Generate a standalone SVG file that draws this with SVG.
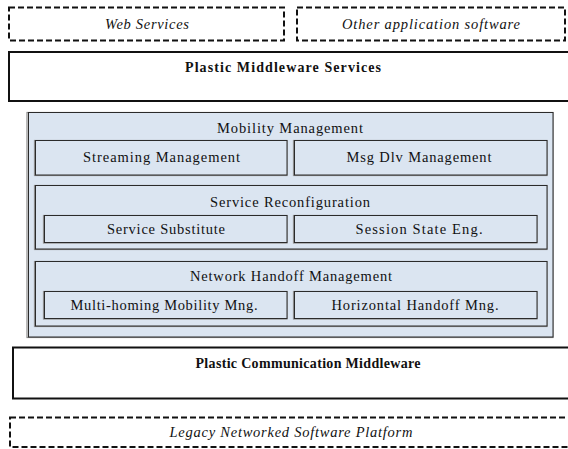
<svg xmlns="http://www.w3.org/2000/svg" width="568" height="449" viewBox="0 0 568 449">
<style>
.t{font-family:"Liberation Serif","Times New Roman",serif;font-size:14.5px;fill:#111;text-anchor:middle}
.b{font-weight:bold;font-size:14px}
.i{font-style:italic}
.dash{fill:#fff;stroke:#111;stroke-width:2;stroke-dasharray:6 3}
.solid{fill:#fff;stroke:#111;stroke-width:2}
.blue{fill:#dbe5f1;stroke:#2b2b2b;stroke-width:1}
.sh{fill:none;stroke:#8c8c8c;stroke-width:1.2}
</style>
<rect width="568" height="449" fill="#fff"/>
<g id="web-services">
<rect class="dash" x="9" y="7.5" width="275" height="33"/>
<text class="t i" x="147" y="29" textLength="84" lengthAdjust="spacing">Web Services</text>
</g>
<g id="other-app">
<rect class="dash" x="297" y="7.5" width="268" height="33"/>
<text class="t i" x="431" y="29" textLength="178" lengthAdjust="spacing">Other application software</text>
</g>
<g id="plastic-middleware-services">
<rect class="solid" x="9" y="52" width="580" height="49"/>
<text class="t b" x="283" y="72" textLength="196" lengthAdjust="spacing">Plastic Middleware Services</text>
</g>
<g id="mobility-management">
<rect class="sh" x="27" y="112.5" width="526" height="225"/>
<rect class="blue" x="28.5" y="112.5" width="524.5" height="224.5"/>
<text class="t" x="290" y="133" textLength="146" lengthAdjust="spacing">Mobility Management</text>
</g>
<g id="streaming-management">
<rect class="sh" x="34.5" y="140.5" width="252.5" height="35"/>
<rect class="blue" x="35.5" y="140.5" width="251.5" height="34.5"/>
<text class="t" x="161.5" y="162" textLength="157" lengthAdjust="spacing">Streaming Management</text>
</g>
<g id="msg-dlv-management">
<rect class="sh" x="293.5" y="140.5" width="253.5" height="35"/>
<rect class="blue" x="294.5" y="140.5" width="252.5" height="34.5"/>
<text class="t" x="419" y="162" textLength="145" lengthAdjust="spacing">Msg Dlv Management</text>
</g>
<g id="service-reconfiguration">
<rect class="sh" x="34.5" y="185.5" width="512.5" height="64"/>
<rect class="blue" x="35.5" y="185.5" width="511.5" height="63.5"/>
<text class="t" x="290" y="207" textLength="160" lengthAdjust="spacing">Service Reconfiguration</text>
</g>
<g id="service-substitute">
<rect class="sh" x="43.5" y="215.5" width="243.5" height="27.5"/>
<rect class="blue" x="44.5" y="215.5" width="242.5" height="27"/>
<text class="t" x="166" y="234" textLength="118" lengthAdjust="spacing">Service Substitute</text>
</g>
<g id="session-state-eng">
<rect class="sh" x="293.5" y="215.5" width="243.5" height="27.5"/>
<rect class="blue" x="294.5" y="215.5" width="242.5" height="27"/>
<text class="t" x="419" y="234" textLength="127" lengthAdjust="spacing">Session State Eng.</text>
</g>
<g id="network-handoff-management">
<rect class="sh" x="34.5" y="261.5" width="512.5" height="65"/>
<rect class="blue" x="35.5" y="261.5" width="511.5" height="64.5"/>
<text class="t" x="291" y="281" textLength="202" lengthAdjust="spacing">Network Handoff Management</text>
</g>
<g id="multi-homing">
<rect class="sh" x="43.5" y="291.5" width="243.5" height="27.5"/>
<rect class="blue" x="44.5" y="291.5" width="242.5" height="27"/>
<text class="t" x="164" y="310" textLength="187" lengthAdjust="spacing">Multi-homing Mobility Mng.</text>
</g>
<g id="horizontal-handoff">
<rect class="sh" x="293.5" y="291.5" width="243.5" height="27.5"/>
<rect class="blue" x="294.5" y="291.5" width="242.5" height="27"/>
<text class="t" x="415" y="310" textLength="167" lengthAdjust="spacing">Horizontal Handoff Mng.</text>
</g>
<g id="plastic-communication-middleware">
<rect class="solid" x="13" y="347.5" width="580" height="51"/>
<text class="t b" x="308" y="368" textLength="225" lengthAdjust="spacing">Plastic Communication Middleware</text>
</g>
<g id="legacy-platform">
<rect class="dash" x="10" y="417.5" width="570" height="29.5"/>
<text class="t i" x="291" y="437" textLength="243" lengthAdjust="spacing">Legacy Networked Software Platform</text>
</g>
<g id="connectors"/>
</svg>
